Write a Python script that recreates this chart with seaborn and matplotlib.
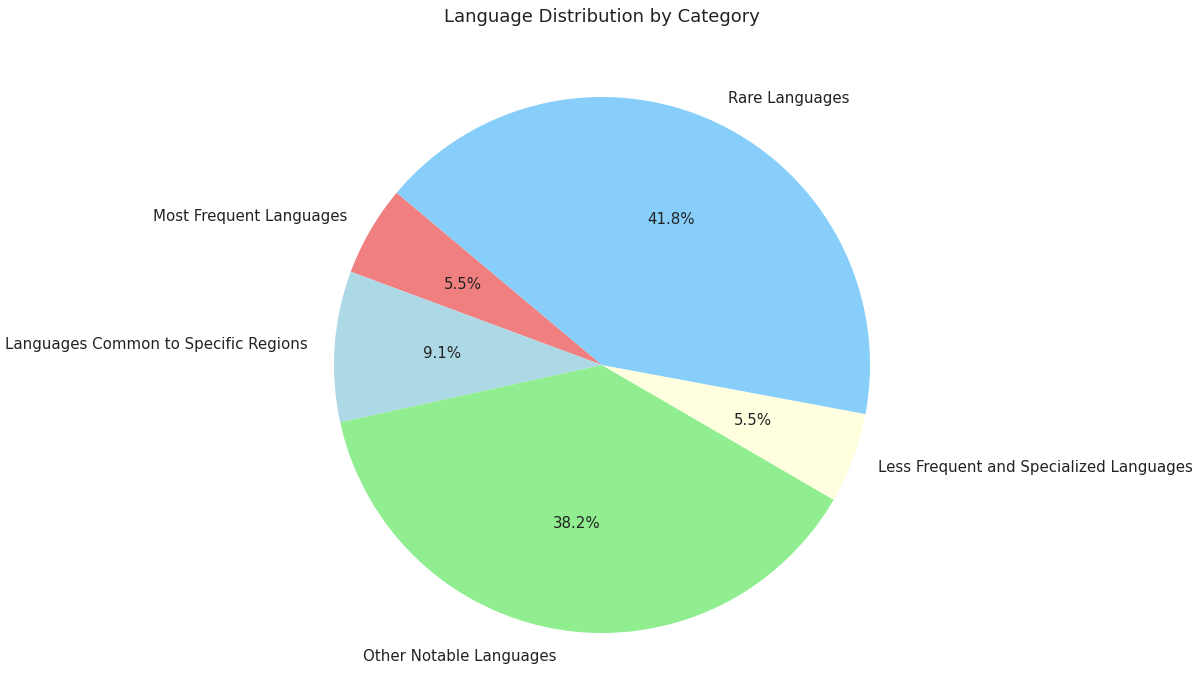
"""Pie chart of language categories"""

import matplotlib
matplotlib.use("Agg")
import matplotlib.pyplot as plt
import seaborn as sns

categories = [
    "Most Frequent Languages",
    "Languages Common to Specific Regions",
    "Other Notable Languages",
    "Less Frequent and Specialized Languages",
    "Rare Languages",
]
counts = [3, 5, 21, 3, 23]
colors = ["lightcoral", "lightblue", "lightgreen", "lightyellow", "lightskyblue"]

sns.set_style("white")
plt.rcParams["font.family"] = ["DejaVu Sans"]
plt.rcParams["text.color"] = "black"

W, H = 1199, 673
fig = plt.figure(figsize=(W / 100, H / 100), dpi=100)
ax = fig.add_axes([0, 0, 1, 1])

ax.pie(
    counts,
    labels=categories,
    colors=colors,
    autopct="%1.1f%%",
    startangle=140,
    wedgeprops={"linewidth": 0, "edgecolor": "none"},
    textprops={"fontsize": 10.8, "color": "#222222"},
)

# place pie centre at (602, 365) px with radius 268 px
cx, cy, r = 602, 365, 268
ax.set_aspect("auto")
ax.set_xlim(-cx / r, (W - cx) / r)
ax.set_ylim(-(H - cy) / r, cy / r)
ax.axis("off")

fig.text(cx / W, 1 - 17 / H, "Language Distribution by Category",
         ha="center", va="center", fontsize=13, color="#222222")

fig.savefig("out.png", dpi=100)
plt.close(fig)
